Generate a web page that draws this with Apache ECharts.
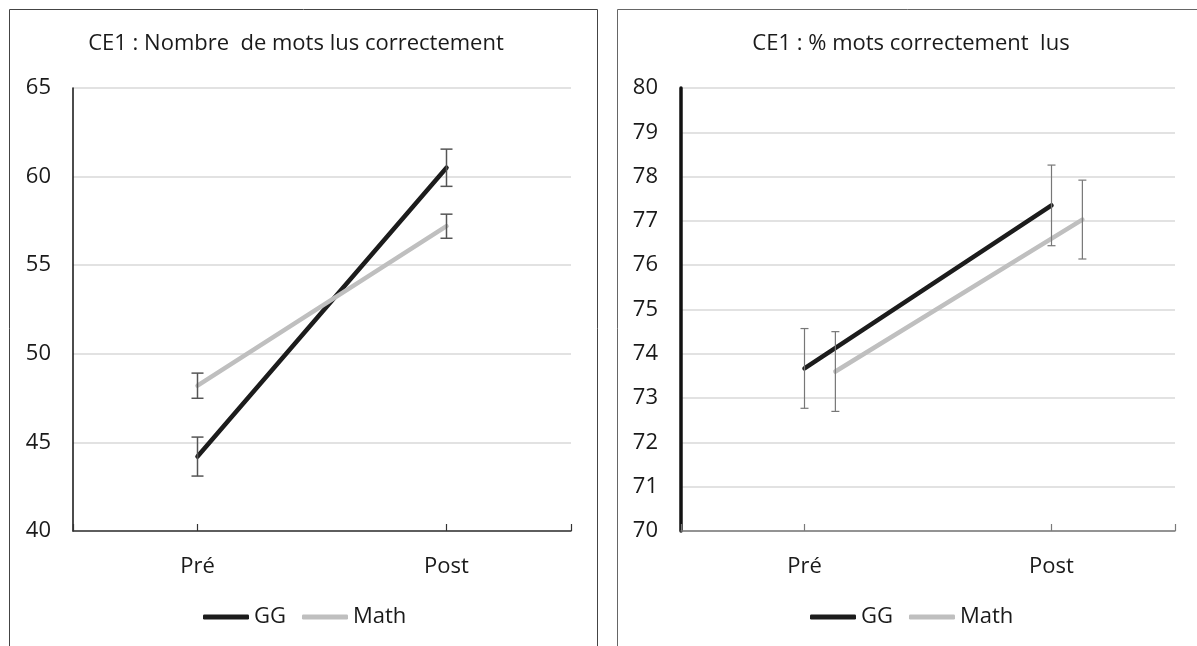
<!DOCTYPE html>
<html>
<head>
<meta charset="utf-8">
<script src="https://cdn.jsdelivr.net/npm/echarts@6/dist/echarts.min.js"></script>
<style>html,body{margin:0;padding:0;background:#fff}#c{width:1197px;height:646px}</style>
</head>
<body>
<div id="c"></div>
<script>
// ---- data ----
const categories = ['Pré', 'Post'];
const seriesNames = ['GG', 'Math'];
const titles = ['CE1 : Nombre  de mots lus correctement', 'CE1 : % mots correctement  lus'];

// chart 1 : Nombre de mots lus correctement
const yTicks1 = [40, 45, 50, 55, 60, 65];
const c1GG = [44.2, 60.5];
const c1GGErr = [1.1, 1.05];
const c1Math = [48.2, 57.2];
const c1MathErr = [0.71, 0.68];

// chart 2 : % mots correctement lus
const yTicks2 = [70, 71, 72, 73, 74, 75, 76, 77, 78, 79, 80];
const c2GG = [73.67, 77.35];
const c2GGErr = [0.9, 0.91];
const c2Math = [73.6, 77.03];
const c2MathErr = [0.9, 0.89];

// ---- build ----
const FONT = 'Open Sans';
const catAxisData = ['', categories[0], '', categories[1], ''];
const catPos = categories.map((c, i) => i * 2 + 1);

function lineData(vals, off) { return vals.map((v, i) => [catPos[i] + off, v]); }
function errData(vals, errs, off) { return vals.map((v, i) => [catPos[i] + off, v - errs[i], v + errs[i]]); }

function errRender(cap, color, width) {
  return function (params, api) {
    const x = api.value(0), lo = api.value(1), hi = api.value(2);
    const a = api.coord([x, hi]), b = api.coord([x, lo]);
    const st = { stroke: color, lineWidth: width };
    return {
      type: 'group',
      children: [
        { type: 'line', shape: { x1: a[0], y1: a[1], x2: b[0], y2: b[1] }, style: st },
        { type: 'line', shape: { x1: a[0] - cap, y1: a[1], x2: a[0] + cap, y2: a[1] }, style: st },
        { type: 'line', shape: { x1: b[0] - cap, y1: b[1], x2: b[0] + cap, y2: b[1] }, style: st }
      ]
    };
  };
}

function catAxis(grid, lineColor) {
  return {
    type: 'category', gridIndex: grid, data: catAxisData, boundaryGap: false,
    axisLine: { lineStyle: { color: lineColor, width: 1.5 } },
    axisTick: { inside: true, length: 7, interval: (i) => i !== 2, lineStyle: { color: lineColor, width: 1.2 } },
    axisLabel: { interval: 0, margin: 25, fontFamily: FONT, fontSize: 22, color: '#1a1a1a' },
    splitLine: { show: false }
  };
}
function hiddenX(grid) { return { type: 'value', gridIndex: grid, min: 0, max: 4, show: false }; }
function yAxis(grid, ticks, axisW, margin) {
  return {
    type: 'value', gridIndex: grid, min: ticks[0], max: ticks[ticks.length - 1], interval: ticks[1] - ticks[0],
    axisLine: { show: true, lineStyle: { color: '#111', width: axisW } },
    axisTick: { show: false },
    axisLabel: { margin: margin, fontFamily: FONT, fontSize: 22, color: '#1a1a1a' },
    splitLine: { lineStyle: { color: '#d9d9d9', width: 1.5 } }
  };
}
function lineSeries(name, color, xi, yi, data) {
  return {
    name, type: 'line', xAxisIndex: xi, yAxisIndex: yi, data, symbol: 'none', z: 3,
    itemStyle: { color }, lineStyle: { color, width: 4.5, cap: 'round' }
  };
}
function errSeries(xi, yi, data, cap, color, w) {
  return { type: 'custom', xAxisIndex: xi, yAxisIndex: yi, data, renderItem: errRender(cap, color, w), z: 4, silent: true };
}

const GG_COLOR = '#1c1c1c', MATH_COLOR = '#bfbfbf';
const MATH_OFF2 = 0.25;
const legendText = { fontFamily: FONT, fontSize: 22, color: '#1a1a1a' };

const option = {
  animation: false,
  title: [
    { text: titles[0], left: 296, top: 33, textAlign: 'center', padding: 0, textStyle: { fontFamily: FONT, fontSize: 22, fontWeight: 'normal', color: '#1a1a1a' } },
    { text: titles[1], left: 911, top: 33, textAlign: 'center', padding: 0, textStyle: { fontFamily: FONT, fontSize: 22, fontWeight: 'normal', color: '#1a1a1a' } }
  ],
  legend: [
    { data: seriesNames, left: 203, top: 606, icon: 'roundRect', itemWidth: 46, itemHeight: 5, itemGap: 16, padding: 0, textStyle: legendText },
    { data: seriesNames, left: 810, top: 606, icon: 'roundRect', itemWidth: 46, itemHeight: 5, itemGap: 16, padding: 0, textStyle: legendText }
  ],
  grid: [
    { left: 73, top: 88, width: 498, height: 443 },
    { left: 681, top: 88, width: 494, height: 443 }
  ],
  xAxis: [catAxis(0, '#333'), hiddenX(0), catAxis(1, '#7a7a7a'), hiddenX(1)],
  yAxis: [yAxis(0, yTicks1, 1.5, 22), yAxis(1, yTicks2, 3.5, 23)],
  series: [
    lineSeries('GG', GG_COLOR, 1, 0, lineData(c1GG, 0)),
    lineSeries('Math', MATH_COLOR, 1, 0, lineData(c1Math, 0)),
    errSeries(1, 0, errData(c1GG, c1GGErr, 0), 6, '#555', 1.5),
    errSeries(1, 0, errData(c1Math, c1MathErr, 0), 6, '#555', 1.5),
    lineSeries('GG', GG_COLOR, 3, 1, lineData(c2GG, 0)),
    lineSeries('Math', MATH_COLOR, 3, 1, lineData(c2Math, MATH_OFF2)),
    errSeries(3, 1, errData(c2GG, c2GGErr, 0), 4, '#777', 1.2),
    errSeries(3, 1, errData(c2Math, c2MathErr, MATH_OFF2), 4, '#777', 1.2)
  ],
  graphic: [
    { type: 'rect', shape: { x: 9.5, y: 9.5, width: 588, height: 700 }, style: { fill: 'none', stroke: '#444', lineWidth: 1 }, silent: true },
    { type: 'rect', shape: { x: 617.5, y: 9.5, width: 700, height: 700 }, style: { fill: 'none', stroke: '#666', lineWidth: 1 }, silent: true }
  ]
};

const chart = echarts.init(document.getElementById('c'), null, { renderer: 'canvas' });
chart.setOption(option);
</script>
</body>
</html>
